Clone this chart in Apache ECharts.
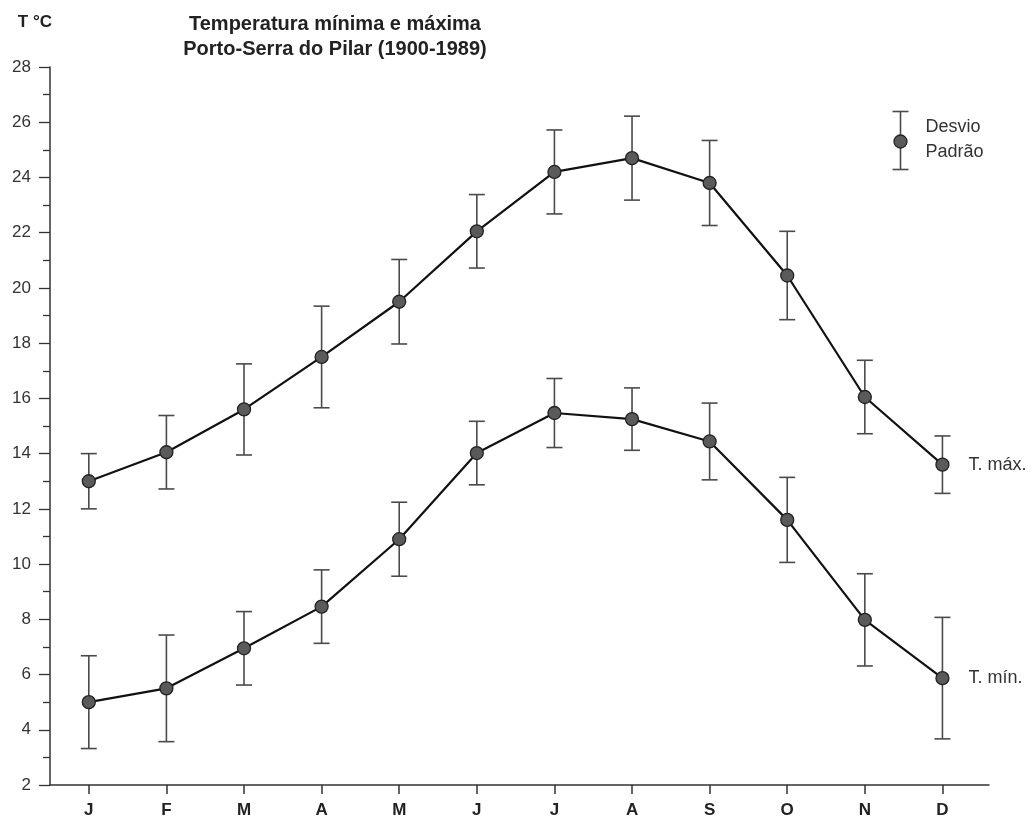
<!DOCTYPE html>
<html lang="pt">
  <head>
    <meta charset="UTF-8" />
    <title>Temperatura mínima e máxima</title>
    <script src="https://cdn.jsdelivr.net/npm/echarts@6.0.0/dist/echarts.min.js"></script>
    <style>
      * {
        padding: 0;
        margin: 0;
      }
      #main {
        width: 1035px;
        height: 819px;
        background: #ffffff;
      }
    </style>
  </head>
  <body>
    <div id="main"></div>
    <script>
      // dados
      var months = ["J", "F", "M", "A", "M", "J", "J", "A", "S", "O", "N", "D"];
      var maxTemp = [13.0, 14.05, 15.6, 17.5, 19.5, 22.05, 24.2, 24.7, 23.8, 20.45, 16.05, 13.6];
      var maxSd = [1.0, 1.33, 1.65, 1.84, 1.53, 1.33, 1.52, 1.52, 1.54, 1.6, 1.33, 1.04];
      var minTemp = [5.0, 5.5, 6.95, 8.46, 10.9, 14.02, 15.47, 15.25, 14.44, 11.6, 7.98, 5.87];
      var minSd = [1.68, 1.93, 1.33, 1.33, 1.34, 1.15, 1.25, 1.13, 1.39, 1.54, 1.67, 2.2];
      var yTicks = [2, 4, 6, 8, 10, 12, 14, 16, 18, 20, 22, 24, 26, 28];

      var font = "Liberation Sans, Arial, Helvetica, sans-serif";
      var axisColor = "#333";
      var errColor = "#4a4a4a";
      var monthIdx = months.map(function (m, i) {
        return i;
      });

      function points(vals) {
        return vals.map(function (v, i) {
          return [i, v];
        });
      }
      function bars(vals, sd) {
        return vals.map(function (v, i) {
          return [i, v - sd[i], v + sd[i]];
        });
      }

      function renderErr(params, api) {
        var x = api.value(0);
        var top = api.coord([x, api.value(2)]);
        var bot = api.coord([x, api.value(1)]);
        var w = 8;
        var style = { stroke: errColor, lineWidth: 1.6 };
        return {
          type: "group",
          children: [
            { type: "line", shape: { x1: top[0], y1: top[1], x2: bot[0], y2: bot[1] }, style: style },
            { type: "line", shape: { x1: top[0] - w, y1: top[1], x2: top[0] + w, y2: top[1] }, style: style },
            { type: "line", shape: { x1: bot[0] - w, y1: bot[1], x2: bot[0] + w, y2: bot[1] }, style: style },
          ],
        };
      }

      var myChart = echarts.init(document.getElementById("main"));
      var option = {
        backgroundColor: "#ffffff",
        animation: false,
        textStyle: { fontFamily: font },
        title: {
          text: "Temperatura mínima e máxima\nPorto-Serra do Pilar (1900-1989)",
          left: 330,
          top: 7,
          textAlign: "center",
          textStyle: {
            fontFamily: font,
            fontSize: 20,
            fontWeight: "bold",
            color: "#222",
            lineHeight: 25,
          },
        },
        grid: {
          left: 50,
          right: 46,
          top: 67,
          bottom: 34,
        },
        xAxis: {
          type: "value",
          min: -0.5,
          max: 11.6,
          splitLine: { show: false },
          axisLine: { show: true, onZero: false, lineStyle: { color: axisColor, width: 1.5 } },
          axisTick: {
            show: true,
            customValues: monthIdx,
            length: 9,
            lineStyle: { color: axisColor, width: 1.5 },
          },
          axisLabel: {
            customValues: monthIdx,
            margin: 17,
            color: "#222",
            fontSize: 17,
            fontWeight: "bold",
            formatter: function (v) {
              return months[v];
            },
          },
        },
        yAxis: {
          type: "value",
          min: yTicks[0],
          max: yTicks[yTicks.length - 1],
          interval: 2,
          name: "T °C",
          nameLocation: "end",
          nameGap: 36,
          nameTextStyle: {
            align: "right",
            fontSize: 17,
            fontWeight: "bold",
            color: "#222",
            padding: [0, -2, 0, 0],
          },
          splitLine: { show: false },
          axisLine: { show: true, onZero: false, lineStyle: { color: axisColor, width: 1.5 } },
          axisTick: { show: true, length: 11, lineStyle: { color: axisColor, width: 1.3 } },
          minorTick: { show: true, splitNumber: 2, length: 7, lineStyle: { color: axisColor, width: 1.3 } },
          axisLabel: { margin: 19, fontSize: 17, color: "#333" },
        },
        graphic: [
          {
            type: "group",
            left: 890,
            top: 109,
            children: [
              { type: "line", shape: { x1: 8, y1: 0, x2: 8, y2: 58 }, style: { stroke: errColor, lineWidth: 1.6 } },
              { type: "line", shape: { x1: 0, y1: 0, x2: 16, y2: 0 }, style: { stroke: errColor, lineWidth: 1.6 } },
              { type: "line", shape: { x1: 0, y1: 58, x2: 16, y2: 58 }, style: { stroke: errColor, lineWidth: 1.6 } },
              {
                type: "circle",
                shape: { cx: 8, cy: 30, r: 6.5 },
                style: { fill: "#5a5a5a", stroke: "#222", lineWidth: 1.3 },
              },
              {
                type: "text",
                x: 33,
                y: 3,
                style: {
                  text: "Desvio\nPadrão",
                  font: "18px " + font,
                  fill: "#333",
                  lineHeight: 25,
                },
              },
            ],
          },
        ],
        series: [
          {
            name: "Desvio máx.",
            type: "custom",
            renderItem: renderErr,
            encode: { x: 0, y: [1, 2] },
            data: bars(maxTemp, maxSd),
            z: 1,
          },
          {
            name: "Desvio mín.",
            type: "custom",
            renderItem: renderErr,
            encode: { x: 0, y: [1, 2] },
            data: bars(minTemp, minSd),
            z: 1,
          },
          {
            name: "T. máx.",
            type: "line",
            data: points(maxTemp),
            symbol: "circle",
            symbolSize: 13,
            z: 3,
            lineStyle: { color: "#111", width: 2.2 },
            itemStyle: { color: "#5a5a5a", borderColor: "#222", borderWidth: 1.3 },
            endLabel: {
              show: true,
              formatter: "T. máx.",
              distance: 26,
              fontSize: 18,
              color: "#333",
            },
          },
          {
            name: "T. mín.",
            type: "line",
            data: points(minTemp),
            symbol: "circle",
            symbolSize: 13,
            z: 3,
            lineStyle: { color: "#111", width: 2.2 },
            itemStyle: { color: "#5a5a5a", borderColor: "#222", borderWidth: 1.3 },
            endLabel: {
              show: true,
              formatter: "T. mín.",
              distance: 26,
              fontSize: 18,
              color: "#333",
            },
          },
        ],
      };
      myChart.setOption(option);
    </script>
  </body>
</html>
